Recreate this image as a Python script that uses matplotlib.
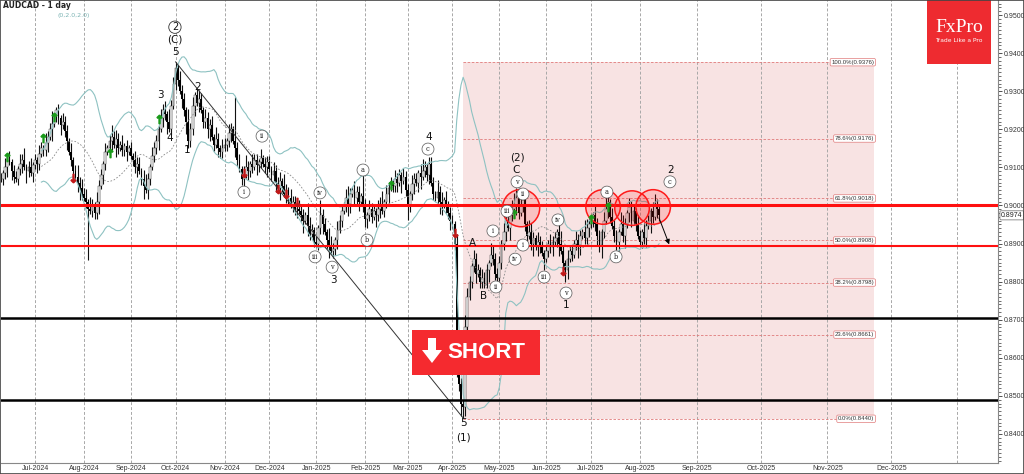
import matplotlib
matplotlib.use('Agg')
import matplotlib.pyplot as plt
from matplotlib.patches import Rectangle, Polygon
from matplotlib.ticker import MultipleLocator, FormatStrFormatter
from matplotlib import font_manager
import numpy as np
import pandas as pd

# ---------------- data ----------------
title = 'AUDCAD - 1 day'
first_day = '2024-06-07'
last_day = '2025-08-14'

# daily closes, price x 10000, one list per month
close_jun24 = [9070, 9085, 9100, 9120, 9115, 9090, 9075, 9070, 9095, 9110, 9120, 9100, 9090, 9100, 9085, 9105]
close_jul24 = [9120, 9110, 9135, 9150, 9145, 9165, 9180, 9200, 9215, 9235, 9250, 9230, 9210, 9220, 9195, 9170,
               9140, 9120, 9090, 9075, 9060, 9045, 9030]
close_aug24 = [9020, 9010, 8990, 8985, 9000, 8980, 9010, 9050, 9080, 9110, 9140, 9150, 9170, 9180, 9160, 9175,
               9150, 9160, 9145, 9155, 9140, 9150]
close_sep24 = [9130, 9120, 9100, 9110, 9090, 9070, 9050, 9040, 9070, 9100, 9130, 9150, 9170, 9200, 9230, 9250,
               9240, 9220, 9200, 9260, 9320]
close_oct24 = [9360, 9330, 9300, 9280, 9250, 9220, 9170, 9200, 9260, 9290, 9270, 9280, 9250, 9220, 9230, 9200,
               9210, 9180, 9160, 9175, 9150, 9140, 9150]
close_nov24 = [9160, 9170, 9190, 9200, 9170, 9150, 9120, 9095, 9070, 9080, 9100, 9090, 9110, 9100, 9120, 9105,
               9115, 9125, 9110, 9100, 9115]
close_dec24 = [9095, 9080, 9090, 9060, 9045, 9065, 9050, 9030, 9040, 9020, 9000, 9010, 8990, 8990, 8985, 8975,
               8960, 8975, 8945, 8925, 8935, 8905]
close_jan25 = [8900, 8940, 8975, 8950, 8930, 8910, 8895, 8880, 8885, 8910, 8935, 8960, 8985, 9000, 9020, 9005,
               9030, 9040, 9020, 9035, 9010, 9025, 9000]
close_feb25 = [8965, 8975, 8990, 8970, 8985, 8975, 8990, 9005, 8985, 9010, 9030, 9045, 9060, 9050, 9070, 9060,
               9080, 9065, 9075, 9040]
close_mar25 = [9000, 9030, 9055, 9070, 9060, 9085, 9075, 9090, 9100, 9080, 9110, 9060, 9030, 9020, 9035, 9010,
               9000, 9015, 8995, 8980, 8960]
close_apr25 = [8950, 8900, 8600, 8530, 8480, 8470, 8680, 8760, 8800, 8840, 8860, 8820, 8830, 8800, 8810, 8790,
               8830, 8850, 8870, 8860, 8820, 8810]
close_may25 = [8850, 8900, 8930, 8960, 8940, 8975, 8990, 9000, 9020, 8980, 9000, 9015, 8950, 8920, 8930, 8900,
               8915, 8890, 8905, 8890, 8875, 8860]
close_jun25 = [8880, 8900, 8890, 8905, 8915, 8930, 8900, 8880, 8850, 8830, 8860, 8880, 8870, 8900, 8910, 8895,
               8920, 8930, 8915, 8940, 8950]
close_jul25 = [8960, 8975, 8950, 8920, 8895, 8930, 8960, 8990, 9010, 8970, 8945, 8920, 8905, 8930, 8950, 8920,
               8950, 8980, 8995, 8960, 8985, 8950, 8920]
close_aug25 = [8905, 8930, 8915, 8945, 8960, 8985, 8970, 9000, 8990, 8974]

# wick sizes per bar, in steps of 8 pips
wick_up = ("21323 12213 24123 1" "21321 32241 32132 21312 423" "23142 13221 31242 32131 21"
           "21322 13421 32213 23142 2" "31322 14231 23213 22314 213" "21321 32213 42132 21312 2"
           "21322 31421 32213 22143 21" "21322 14321 32213 42132 213" "21322 13241 32213 22132"
           "21322 13421 32214 23132 2" "21322 14321 32213 22143 22" "21322 13421 32214 32132 21"
           "21322 13421 32213 22143 2" "21322 13421 32214 32132 213" "21322 13421")
wick_dn = ("12231 32122 31421 3" "13212 23141 22312 31221 342" "12312 22413 21231 42122 31"
           "12231 24132 12231 32412 1" "22132 41223 13122 34121 322" "12231 32124 13221 32212 3"
           "12231 42132 12231 24132 12" "12231 34122 31212 43122 312" "13221 42312 23122 31412"
           "12231 34122 31212 43122 3" "12324 33412 23122 31412 21" "12231 42132 12231 24132 12"
           "12231 34122 31212 43122 3" "12231 42132 12231 24132 121" "12231 42132")

# bars with visibly long wicks (bar number: price x 10000)
high_fix = {26: 9258, 82: 9377, 110: 9285, 150: 9015, 170: 9085, 201: 9127, 242: 9045, 285: 9035, 307: 9030}
low_fix = {41: 8857, 88: 9150, 147: 8890, 156: 8862, 171: 8943, 191: 8962, 214: 8550, 217: 8442,
           227: 8783, 233: 8800, 255: 8830, 265: 8800, 281: 8878, 289: 8883}

fib_low, fib_high = 0.8440, 0.9376
fib_levels = [0.0, 0.236, 0.382, 0.5, 0.618, 0.786, 1.0]
fib_start = '2025-04-08'
fib_end = '2025-11-23'

red_levels = [0.9000, 0.8893]
black_levels = [0.8704, 0.8488]
last_price = 0.8974

trend_from = (82, 0.9377)
trend_to = (217, 0.8442)

wave_labels = [('5', 82.2, 0.9403), ('(C)', 81.7, 0.9437), ('3', 74.7, 0.9290), ('4', 79.4, 0.9177),
               ('2', 92.5, 0.9311), ('1', 87.4, 0.9146), ('3', 156, 0.8804), ('4', 201, 0.9180),
               ('A', 221.2, 0.8901), ('B', 226.8, 0.8762), ('(2)', 242.3, 0.9127), ('C', 241.8, 0.9093),
               ('1', 265.3, 0.8739), ('2', 314.5, 0.9093), ('5', 217, 0.8429), ('(1)', 217, 0.8392)]
minor_labels = [('i', 114.1, 0.9035), ('ii', 122.6, 0.9182), ('iii', 147.5, 0.8865), ('iv', 149.8, 0.9033),
                ('v', 155.5, 0.8838), ('a', 170, 0.9093), ('b', 171.9, 0.8909), ('c', 200.5, 0.9148),
                ('i', 231.0, 0.8933), ('ii', 232.4, 0.8786), ('iii', 237.6, 0.8985), ('iv', 241.4, 0.8859),
                ('v', 242.3, 0.9062), ('ii', 245.1, 0.9030), ('i', 245.1, 0.8896), ('iii', 255.0, 0.8812),
                ('iv', 261.5, 0.8962), ('v', 265.3, 0.8770), ('a', 284.5, 0.9035), ('b', 288.8, 0.8865),
                ('c', 314.1, 0.9062)]
top_circled = ('2', 81.7, 0.9468)

green_marks_x = [3, 20, 25, 51, 74, 183, 241, 277, 285]
green_marks_y = [0.9127, 0.9177, 0.9232, 0.9138, 0.9227, 0.9054, 0.8978, 0.8964, 0.8996]
red_marks_x = [34, 114, 130, 134, 139, 213, 264]
red_marks_y = [0.9072, 0.9085, 0.9043, 0.9030, 0.9009, 0.8928, 0.8828]

circle_x = [244.2, 282.7, 296.3, 306.2]
circle_y = [0.8993, 0.8996, 0.8993, 0.8996]

arrow_from = (308.5, 0.8974)
arrow_to = (314.2, 0.8891)

# ---------------- build series ----------------
months = [close_jun24, close_jul24, close_aug24, close_sep24, close_oct24, close_nov24, close_dec24,
          close_jan25, close_feb25, close_mar25, close_apr25, close_may25, close_jun25, close_jul25, close_aug25]
closes = np.array(sum(months, []), dtype=float) / 1e4
dates = pd.bdate_range(first_day, last_day)
n = len(closes)
assert len(dates) == n, (len(dates), n)
idx = np.arange(n)
opens = np.r_[closes[0], closes[:-1]]
up = np.array([int(c) for c in wick_up.replace(' ', '')]) * 8e-4
dn = np.array([int(c) for c in wick_dn.replace(' ', '')]) * 8e-4
assert len(up) == n and len(dn) == n, (len(up), len(dn))
highs = np.maximum(opens, closes) + up
lows = np.minimum(opens, closes) - dn
for k, v in high_fix.items():
    highs[k] = v / 1e4
for k, v in low_fix.items():
    lows[k] = v / 1e4

s = pd.Series(closes)
mid = s.rolling(20).mean()
sd = s.rolling(20).std(ddof=0)
bb_up = mid + 2 * sd
bb_dn = mid - 2 * sd


def to_x(d):
    d = pd.Timestamp(d)
    if d <= dates[-1]:
        return float(dates.searchsorted(d))
    return (n - 1) + (d - dates[-1]).days


month_starts = pd.date_range('2024-07-01', '2026-01-01', freq='MS')
tick_x = [to_x(d) for d in month_starts]
tick_lbl = [d.strftime('%b-%Y') if d.year < 2026 else '' for d in month_starts]

names = {f.name for f in font_manager.fontManager.ttflist}
small_font = 'Liberation Sans Narrow' if 'Liberation Sans Narrow' in names else 'Liberation Sans'

# ---------------- figure ----------------
W, H = 1024, 474
fig = plt.figure(figsize=(W / 100, H / 100), dpi=100)
ax = fig.add_axes([1 / W, 11 / H, 997 / W, 463 / H])
ax.set_xlim(0.05, 468.1)
ax.set_ylim(0.83238, 0.95394)


def fpx(x, y):
    return (x / W, 1 - y / H)


# fibonacci zone
x0, x1 = to_x(fib_start), to_x(fib_end)
ax.add_patch(Rectangle((x0, fib_low), x1 - x0, fib_high - fib_low, fc='#f8e3e3', ec='none', zorder=0))
for lv in fib_levels:
    p = fib_low + lv * (fib_high - fib_low)
    ax.plot([x0, x1], [p, p], color='#e07a7a', lw=0.6, ls=(0, (3, 2)), zorder=1)
    ax.text(x1, p, f'{lv * 100:.1f}%({p:.4f})', fontsize=4.3, family=small_font, color='#333',
            ha='right', va='center', zorder=6,
            bbox=dict(boxstyle='round,pad=0.2', fc='white', ec='#e07a7a', lw=0.5))

# month grid
for tx in tick_x:
    ax.axvline(tx, color='#a8a8a8', lw=0.7, ls=(0, (3, 2)), zorder=0.5)

# candles
ax.vlines(idx, lows, highs, color='#111', lw=0.8, zorder=2)
down = closes < opens
ax.bar(idx[down], (opens - closes)[down], bottom=closes[down], width=0.85, color='black', zorder=2.1)
ax.bar(idx[~down], np.maximum(closes - opens, 2e-5)[~down], bottom=opens[~down], width=0.85,
       facecolor='white', edgecolor='#333', linewidth=0.35, zorder=2.1)

# bollinger bands
ax.plot(idx, bb_up, color='#8ec2c2', lw=0.8, zorder=2.5)
ax.plot(idx, bb_dn, color='#8ec2c2', lw=0.8, zorder=2.5)
ax.plot(idx, mid, color='#8a8a8a', lw=0.6, ls=(0, (2, 2)), zorder=2.5)

# trend line
ax.plot([trend_from[0], trend_to[0]], [trend_from[1], trend_to[1]], color='#333', lw=0.7, zorder=3)

# support / resistance
ax.axhline(red_levels[0], color='#ff1010', lw=2.2, zorder=4)
ax.axhline(red_levels[1], color='#ff1010', lw=1.5, zorder=4)
for lv in black_levels:
    ax.axhline(lv, color='black', lw=1.8, zorder=4)

# circles and arrow
ax.scatter(circle_x, circle_y, s=[720, 620, 620, 620], facecolor=(1, 0, 0, 0.15), edgecolor='#ff1a1a',
           lw=1.1, zorder=5)
ax.annotate('', xy=arrow_to, xytext=arrow_from,
            arrowprops=dict(arrowstyle='-|>', color='black', lw=0.7, mutation_scale=7), zorder=5)

# signal markers
ax.plot(green_marks_x, green_marks_y, ls='none', marker=r'$\uparrow$', color='#1a9a1a', ms=6, zorder=5)
ax.plot(red_marks_x, red_marks_y, ls='none', marker=r'$\downarrow$', color='#c01818', ms=6, zorder=5)

# wave labels
for t, x, y in wave_labels:
    ax.text(x, y, t, fontsize=7.5, color='#111', ha='center', va='center', zorder=6)
for t, x, y in minor_labels:
    ax.text(x, y, t, fontsize=4.8, family='DejaVu Serif', color='#222', ha='center', va='center', zorder=6,
            bbox=dict(boxstyle='circle,pad=0.3', fc='white', ec='#555', lw=0.5))
ax.text(top_circled[1], top_circled[2], top_circled[0], fontsize=7, color='#111', ha='center', va='center',
        zorder=6, bbox=dict(boxstyle='circle,pad=0.12', fc='white', ec='#333', lw=0.6))

# axes styling
ax.yaxis.tick_right()
ax.set_yticks(np.arange(0.84, 0.9501, 0.01))
ax.yaxis.set_major_formatter(FormatStrFormatter('%.4f'))
ax.yaxis.set_minor_locator(MultipleLocator(0.001))
ax.tick_params(axis='y', which='major', length=3, width=0.6, pad=1.5, labelsize=5, colors='#333')
ax.tick_params(axis='y', which='minor', length=1.8, width=0.5, colors='#333')
for lab in ax.get_yticklabels():
    lab.set_family(small_font)
ax.set_xticks(tick_x)
ax.set_xticklabels(tick_lbl, fontsize=5, family=small_font, color='#333')
ax.tick_params(axis='x', length=0, pad=1.5)
for side in ['left', 'top']:
    ax.spines[side].set_visible(False)
for side in ['right', 'bottom']:
    ax.spines[side].set_color('#888')
    ax.spines[side].set_linewidth(0.8)

ax.text(1.003, last_price, f'{last_price:.4f}', transform=ax.get_yaxis_transform(), fontsize=5,
        family=small_font, ha='left', va='center', color='#222', zorder=7,
        bbox=dict(boxstyle='round,pad=0.15', fc='white', ec='#666', lw=0.5))

# header texts
fig.text(*fpx(3, 6), title, fontsize=5.5, weight='bold', color='#222', ha='left', va='center')
fig.text(*fpx(57, 16), '(0,2.0,2.0)', fontsize=4.5, color='#7ab3b3', ha='left', va='center')

# FxPro logo
fig.add_artist(Rectangle(fpx(927, 64), 64 / W, 64 / H, transform=fig.transFigure, fc='#ee2b30', ec='none',
                         zorder=10))
fig.text(*fpx(959, 28), 'FxPro', color='white', fontsize=14, family='Liberation Serif', ha='center',
         va='center', zorder=11)
fig.text(*fpx(959, 41), 'Trade Like a Pro', color='white', fontsize=4.3, ha='center', va='center', zorder=11)

# SHORT badge
fig.add_artist(Rectangle(fpx(412, 375), 128 / W, 45 / H, transform=fig.transFigure, fc='#f52a2f', ec='none',
                         zorder=10))
arrow_pts = [fpx(428, 338), fpx(436, 338), fpx(436, 350), fpx(442, 350), fpx(432, 363), fpx(422, 350),
             fpx(428, 350)]
fig.add_artist(Polygon(arrow_pts, closed=True, transform=fig.transFigure, fc='white', ec='none', zorder=11))
fig.text(*fpx(486, 352), 'SHORT', color='white', fontsize=16, weight='bold', family='Liberation Sans',
         ha='center', va='center', zorder=11)

# outer frame
fig.add_artist(Rectangle((0, 0), 1, 1, transform=fig.transFigure, fill=False, ec='#444', lw=1.2, zorder=12))

fig.savefig('out.png', dpi=100)
